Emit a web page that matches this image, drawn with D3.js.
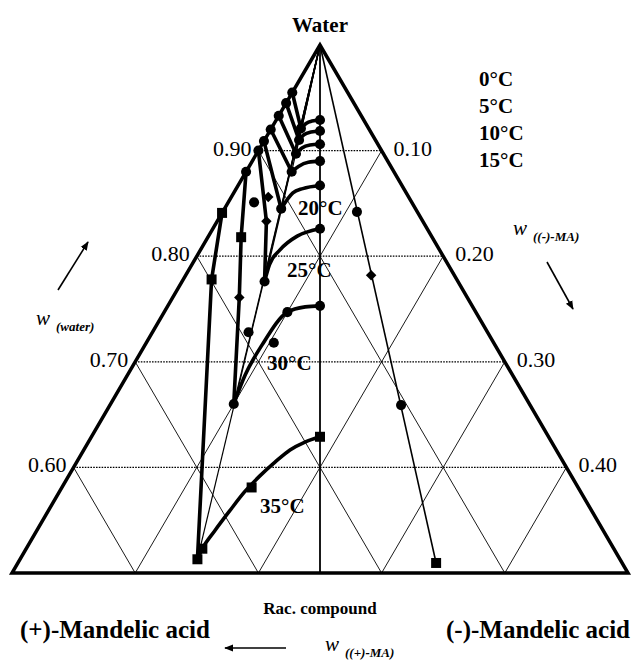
<!DOCTYPE html>
<html>
<head>
<meta charset="utf-8">
<script src="https://cdn.jsdelivr.net/npm/d3@7"></script>
<style>
  body { margin: 0; background: #fff; }
  text { font-family: "Liberation Serif", "Times New Roman", serif; fill: #000; }
</style>
</head>
<body>
<svg id="chart" width="642" height="662"></svg>
<script>
// Ternary phase diagram of mandelic acid enantiomers in water (water-rich part).
// Compositions are mass fractions given as [w(water), w((+)-MA)]; w((-)-MA) = 1 - both.

const temperatures = ["0°C", "5°C", "10°C", "15°C", "20°C", "25°C", "30°C", "35°C"];

// Axis tick values
const waterTicks = [0.6, 0.7, 0.8, 0.9];
const minusTicks = [0.1, 0.2, 0.3, 0.4];
const gridLevels = [0.1, 0.2, 0.3, 0.4];

// Solubility of the pure (+)-enantiomer: from the binary edge down to the eutectic
const plusBranch = [
  [[0.955, 0.045], [0.921, 0.055]],
  [[0.945, 0.055], [0.910, 0.062]],
  [[0.933, 0.067], [0.897, 0.071]],
  [[0.920, 0.080], [0.880, 0.083]],
  [[0.909, 0.091], [0.845, 0.109]],
  [[0.900, 0.100], [0.833, 0.127], [0.776, 0.157]],
  [[0.880, 0.120], [0.818, 0.155], [0.761, 0.185], [0.660, 0.240]],
  [[0.841, 0.159], [0.778, 0.199], [0.513, 0.343]]
];

// Solubility of the racemic compound: from the eutectic to the racemic composition
const racBranch = [
  [[0.921, 0.055], [0.926, 0.048], [0.928, 0.0425], [0.929, 0.0355]],
  [[0.910, 0.062], [0.915, 0.0556], [0.9176, 0.0485], [0.9186, 0.0407]],
  [[0.897, 0.071], [0.9025, 0.0634], [0.9053, 0.0555], [0.906, 0.047]],
  [[0.880, 0.083], [0.885, 0.075], [0.889, 0.065], [0.890, 0.055]],
  [[0.845, 0.109], [0.860, 0.092], [0.864, 0.082], [0.867, 0.0665]],
  [[0.776, 0.157], [0.792, 0.145], [0.806, 0.1295], [0.819, 0.109], [0.826, 0.087]],
  [[0.660, 0.240], [0.6875, 0.217], [0.716, 0.189], [0.747, 0.153], [0.752, 0.136], [0.753, 0.1235]],
  [[0.513, 0.343], [0.523, 0.334], [0.540, 0.3154], [0.559, 0.2937], [0.577, 0.2726], [0.592, 0.2528],
   [0.605, 0.234], [0.6165, 0.2161], [0.624, 0.2002], [0.629, 0.1855]]
];

// Measured points
const circlePoints = [
  [0.955, 0.045], [0.945, 0.055], [0.933, 0.067], [0.920, 0.080], [0.909, 0.091], [0.900, 0.100],
  [0.921, 0.055], [0.910, 0.062], [0.897, 0.071], [0.880, 0.083], [0.845, 0.109],
  [0.929, 0.0355], [0.9186, 0.0407], [0.906, 0.047], [0.890, 0.055], [0.867, 0.0665],
  [0.826, 0.087], [0.776, 0.157], [0.851, 0.128],
  [0.880, 0.120], [0.660, 0.240], [0.728, 0.194], [0.747, 0.153], [0.753, 0.1235], [0.718, 0.1785]
];
const squarePoints = [
  [0.841, 0.159], [0.778, 0.199], [0.818, 0.155], [0.513, 0.343], [0.523, 0.334],
  [0.581, 0.265], [0.629, 0.1855]
];
const diamondPoints = [
  [0.856, 0.114], [0.833, 0.127], [0.761, 0.185]
];

// Eutectic points on the (-)-MA side
const minusEutectic = [[0.842, 0.049], [0.782, 0.0675], [0.659, 0.1047], [0.5095, 0.151]];
const minusShapes = ["circle", "diamond", "circle", "square"];

// ---------------------------------------------------------------------------
const svg = d3.select("#chart");
const y = d3.scaleLinear().domain([0.5, 1]).range([573, 45]);
const x = d3.scaleLinear().domain([-0.5, 0.5]).range([12, 628]);   // w(-) - w(+)

function proj(p) {
  const w = p[0], a = p[1], b = 1 - w - a;
  return [x(b - a), y(w)];
}
const line = d3.line().x(d => proj(d)[0]).y(d => proj(d)[1]);
const curve = d3.line().x(d => proj(d)[0]).y(d => proj(d)[1]).curve(d3.curveMonotoneX);

const apex = [1, 0];
const cornerPlus = [0.5, 0.5];
const cornerMinus = [0.5, 0];
const racemic = [0.5, 0.25];

const grid = svg.append("g");
// constant (+)-MA lines and constant (-)-MA lines
gridLevels.forEach(g => {
  grid.append("path").attr("d", line([[1 - g, g], [0.5, g]]))
    .attr("fill", "none").attr("stroke", "#000").attr("stroke-width", 0.9);
  grid.append("path").attr("d", line([[1 - g, 0], [0.5, 0.5 - g]]))
    .attr("fill", "none").attr("stroke", "#000").attr("stroke-width", 0.9);
});
// constant water lines (dotted)
waterTicks.forEach(w => {
  grid.append("path").attr("d", line([[w, 1 - w], [w, 0]]))
    .attr("fill", "none").attr("stroke", "#000").attr("stroke-width", 1.3)
    .attr("stroke-dasharray", "1.6,1.2");
});
// racemic axis
grid.append("path").attr("d", line([apex, racemic]))
  .attr("fill", "none").attr("stroke", "#000").attr("stroke-width", 1.8);

// rays from the water apex through the eutectic points
const rays = svg.append("g");
racBranch.forEach(br => {
  rays.append("path").attr("d", line([apex, br[0]]))
    .attr("fill", "none").attr("stroke", "#000").attr("stroke-width", 1.2);
});
rays.append("path").attr("d", line([apex, minusEutectic[minusEutectic.length - 1]]))
  .attr("fill", "none").attr("stroke", "#000").attr("stroke-width", 1.6);

// triangle frame
svg.append("path").attr("d", line([apex, cornerPlus, cornerMinus]) + "Z")
  .attr("fill", "none").attr("stroke", "#000").attr("stroke-width", 3.5)
  .attr("stroke-linejoin", "miter");

// isotherms
const iso = svg.append("g");
plusBranch.forEach(br => {
  iso.append("path").attr("d", line(br)).attr("fill", "none")
    .attr("stroke", "#000").attr("stroke-width", 3.6).attr("stroke-linecap", "round");
});
racBranch.forEach(br => {
  iso.append("path").attr("d", curve(br)).attr("fill", "none")
    .attr("stroke", "#000").attr("stroke-width", 3.6).attr("stroke-linecap", "round");
});

// markers
const sym = {
  circle: d3.symbol().type(d3.symbolCircle).size(80),
  square: d3.symbol().type(d3.symbolSquare).size(100),
  diamond: d3.symbol().type(d3.symbolSquare).size(55)
};
function drawMarkers(points, shape) {
  svg.append("g").selectAll("path").data(points).join("path")
    .attr("d", sym[shape])
    .attr("transform", d => {
      const p = proj(d);
      return `translate(${p[0]},${p[1]})` + (shape === "diamond" ? " rotate(45)" : "");
    })
    .attr("fill", "#000");
}
drawMarkers(circlePoints, "circle");
drawMarkers(squarePoints, "square");
drawMarkers(diamondPoints, "diamond");
minusEutectic.forEach((p, i) => drawMarkers([p], minusShapes[i]));

// ---------------------------------------------------------------------------
// Tick labels
waterTicks.forEach(w => {
  const p = proj([w, 1 - w]);
  svg.append("text").attr("x", p[0] - 7).attr("y", p[1] + 5)
    .attr("text-anchor", "end").attr("font-size", 22)
    .text(w.toFixed(2));
});
minusTicks.forEach(b => {
  const p = proj([1 - b, 0]);
  svg.append("text").attr("x", p[0] + 12).attr("y", p[1] + 5)
    .attr("font-size", 22)
    .text(b.toFixed(2));
});

// Corner and axis titles
const apexPos = proj(apex);
svg.append("text").attr("x", apexPos[0]).attr("y", 32).attr("text-anchor", "middle")
  .attr("font-size", 21).attr("font-weight", "bold").text("Water");
svg.append("text").attr("x", proj(racemic)[0]).attr("y", 614).attr("text-anchor", "middle")
  .attr("font-size", 17).attr("font-weight", "bold").text("Rac. compound");
svg.append("text").attr("x", 20).attr("y", 638)
  .attr("font-size", 25).attr("font-weight", "bold").text("(+)-Mandelic acid");
svg.append("text").attr("x", 446).attr("y", 638)
  .attr("font-size", 25).attr("font-weight", "bold").text("(-)-Mandelic acid");

// Temperature labels
const legendTemps = temperatures.slice(0, 4);
legendTemps.forEach((t, i) => {
  svg.append("text").attr("x", 479).attr("y", 86 + i * 27)
    .attr("font-size", 21).attr("font-weight", "bold").text(t);
});
const isoLabelAt = [[298, 215], [287, 277], [267, 370], [260, 513]];
temperatures.slice(4).forEach((t, i) => {
  svg.append("text").attr("x", isoLabelAt[i][0]).attr("y", isoLabelAt[i][1])
    .attr("font-size", 21).attr("font-weight", "bold").text(t);
});

// Axis variable names with arrows
const defs = svg.append("defs");
defs.append("marker").attr("id", "head").attr("viewBox", "0 0 10 10")
  .attr("refX", 9).attr("refY", 5).attr("markerWidth", 9).attr("markerHeight", 9)
  .attr("markerUnits", "userSpaceOnUse").attr("orient", "auto")
  .append("path").attr("d", "M0,1 L10,5 L0,9 Z").attr("fill", "#000");

function arrow(x1, y1, x2, y2) {
  svg.append("line").attr("x1", x1).attr("y1", y1).attr("x2", x2).attr("y2", y2)
    .attr("stroke", "#000").attr("stroke-width", 1.6).attr("marker-end", "url(#head)");
}
function varLabel(xp, yp, sub) {
  const t = svg.append("text").attr("x", xp).attr("y", yp);
  t.append("tspan").attr("font-style", "italic").attr("font-size", 21).text("w");
  t.append("tspan").attr("font-style", "italic").attr("font-weight", "bold")
    .attr("font-size", 13).attr("dx", 6).attr("dy", 6).text(sub);
}
arrow(58, 290, 88, 242);
varLabel(36, 325, "(water)");
arrow(547, 262, 573, 309);
varLabel(513, 235, "((-)-MA)");
arrow(286, 648, 225, 648);
varLabel(325, 651, "((+)-MA)");
</script>
</body>
</html>
